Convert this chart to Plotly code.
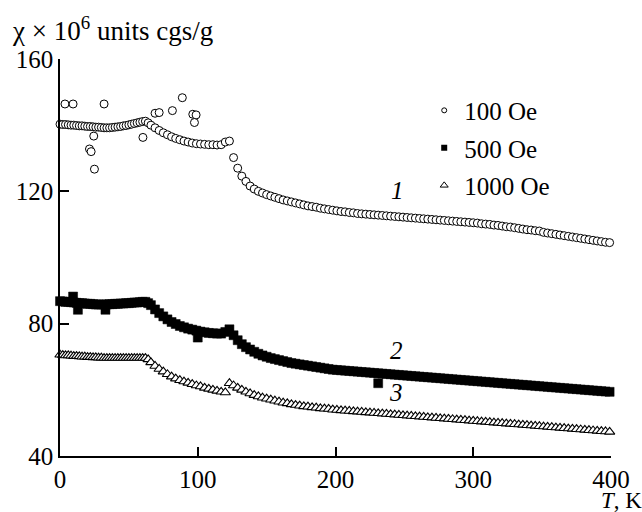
import plotly.graph_objects as go

# Temperature grid (K)
T = [0, 2, 4, 6, 8, 10, 12, 14, 16, 18,
     20, 22, 24, 26, 28, 30, 32, 34, 36, 38,
     40, 42, 44, 46, 48, 50, 52, 54, 56, 58,
     60, 62, 64,
     66, 69, 72, 75, 78, 81, 84, 87, 90, 93,
     96, 99, 102, 105, 108, 111, 114, 117, 120, 123,
     126, 129, 132, 135, 138, 141, 144, 147, 150, 153,
     156, 159, 162, 165, 168, 171, 174, 177, 180, 183,
     186, 189, 192, 195, 198, 201, 204, 207, 210, 213,
     216, 219, 222, 225, 228, 231, 234, 237, 240, 243,
     246, 249, 252, 255, 258, 261, 264, 267, 270, 273,
     276, 279, 282, 285, 288, 291, 294, 297, 300, 303,
     306, 309, 312, 315, 318, 321, 324, 327, 330, 333,
     336, 339, 342, 345, 348, 351, 354, 357, 360, 363,
     366, 369, 372, 375, 378, 381, 384, 387, 390, 393,
     396, 399]

# 100 Oe (curve 1)
CHI_100 = [140.3, 140.2, 140.2, 140.1, 140.0, 140.0, 139.9, 139.8, 139.8, 139.7,
           139.6, 139.6, 139.5, 139.4, 139.4, 139.3, 139.2, 139.2, 139.2, 139.3,
           139.4, 139.5, 139.6, 139.8, 139.9, 140.1, 140.3, 140.5, 140.7, 140.9,
           141.1, 141.2, 140.7,
           140.0, 139.2, 138.4, 137.7, 137.1, 136.5, 136.0, 135.6, 135.2, 134.9,
           134.6, 134.4, 134.3, 134.2, 134.1, 134.1, 134.0, 134.1, 134.9, 135.2,
           130.2, 127.0, 124.6, 123.0, 121.6, 120.7, 120.0, 119.5, 119.0, 118.6,
           118.2, 117.8, 117.4, 117.1, 116.8, 116.5, 116.2, 115.9, 115.6, 115.4,
           115.2, 114.9, 114.7, 114.5, 114.3, 114.1, 113.9, 113.8, 113.6, 113.5,
           113.3, 113.2, 113.1, 113.0, 112.9, 112.8, 112.7, 112.6, 112.5, 112.4,
           112.3, 112.2, 112.1, 112.0, 111.9, 111.8, 111.7, 111.6, 111.5, 111.4,
           111.3, 111.2, 111.1, 111.0, 110.9, 110.8, 110.7, 110.6, 110.5, 110.4,
           110.2, 110.1, 110.0, 109.8, 109.7, 109.5, 109.3, 109.2, 109.0, 108.8,
           108.6, 108.4, 108.3, 108.1, 108.0, 107.6, 107.4, 107.2, 107.0, 106.8,
           106.6, 106.4, 106.2, 106.0, 105.8, 105.6, 105.4, 105.2, 105.0, 104.8,
           104.6, 104.5]

# scattered low-temperature points of the 100 Oe run
T_100_OUT = [3.6, 9.5, 32.0, 24.5, 21.4, 22.6, 25.0, 60.2, 69.0, 72.0, 81.6, 88.8, 96.4, 98.8, 97.6]
CHI_100_OUT = [146.4, 146.4, 146.4, 136.7, 132.8, 132.0, 126.7, 136.3, 143.6, 143.8, 144.4, 148.3, 143.3, 143.1, 140.8]

# 500 Oe (curve 2)
CHI_500 = [86.8, 86.7, 86.6, 86.6, 86.5, 86.4, 86.3, 86.2, 86.2, 86.1,
           86.0, 86.0, 85.9, 85.8, 85.8, 85.8, 85.8, 85.8, 85.9, 85.9,
           86.0, 86.0, 86.1, 86.1, 86.2, 86.2, 86.3, 86.4, 86.4, 86.5,
           86.6, 86.6, 86.2,
           85.6, 84.3, 83.2, 82.2, 81.3, 80.5, 79.9, 79.3, 78.9, 78.5,
           78.2, 77.9, 77.6, 77.4, 77.2, 77.1, 77.0, 77.0, 77.5, 78.3,
           76.5, 75.0, 73.8, 72.9, 72.2, 71.5, 70.9, 70.4, 70.0, 69.6,
           69.3, 69.0, 68.7, 68.4, 68.1, 67.9, 67.7, 67.5, 67.3, 67.1,
           66.9, 66.7, 66.5, 66.3, 66.1, 66.0, 65.9, 65.8, 65.7, 65.6,
           65.5, 65.4, 65.3, 65.2, 65.1, 65.0, 64.9, 64.8, 64.7, 64.6,
           64.5, 64.4, 64.3, 64.2, 64.1, 64.0, 63.9, 63.8, 63.7, 63.6,
           63.5, 63.4, 63.3, 63.2, 63.1, 63.0, 62.9, 62.8, 62.7, 62.6,
           62.5, 62.4, 62.3, 62.2, 62.1, 62.0, 61.9, 61.8, 61.7, 61.6,
           61.5, 61.4, 61.3, 61.2, 61.1, 61.0, 60.9, 60.8, 60.7, 60.6,
           60.5, 60.4, 60.3, 60.2, 60.1, 60.0, 59.9, 59.8, 59.7, 59.6,
           59.5, 59.4]

T_500_OUT = [9.5, 13.0, 33.0, 100.0, 231.0]
CHI_500_OUT = [88.2, 84.2, 84.2, 75.8, 62.0]

# 1000 Oe (curve 3)
CHI_1000 = [70.6, 70.5, 70.4, 70.4, 70.3, 70.2, 70.2, 70.1, 70.0, 70.0,
            69.9, 69.9, 69.8, 69.8, 69.7, 69.7, 69.6, 69.6, 69.6, 69.6,
            69.6, 69.6, 69.6, 69.6, 69.6, 69.6, 69.6, 69.6, 69.6, 69.6,
            69.6, 69.6, 69.2,
            68.3, 67.2, 66.3, 65.5, 64.7, 64.0, 63.4, 62.9, 62.5, 62.1,
            61.7, 61.3, 61.0, 60.6, 60.3, 60.0, 59.7, 59.4, 59.2, 62.0,
            61.3, 60.6, 60.0, 59.4, 58.9, 58.4, 58.0, 57.6, 57.3, 57.0,
            56.7, 56.4, 56.1, 55.9, 55.6, 55.4, 55.2, 55.0, 54.9, 54.7,
            54.6, 54.4, 54.3, 54.2, 54.0, 53.9, 53.8, 53.7, 53.6, 53.5,
            53.4, 53.3, 53.2, 53.1, 53.0, 52.9, 52.8, 52.7, 52.6, 52.5,
            52.4, 52.3, 52.2, 52.1, 52.0, 51.9, 51.8, 51.7, 51.6, 51.5,
            51.4, 51.3, 51.2, 51.1, 51.0, 50.9, 50.8, 50.7, 50.6, 50.5,
            50.4, 50.3, 50.2, 50.1, 50.0, 49.9, 49.8, 49.7, 49.6, 49.5,
            49.4, 49.3, 49.2, 49.1, 49.0, 48.9, 48.8, 48.7, 48.6, 48.5,
            48.4, 48.3, 48.2, 48.1, 48.0, 47.9, 47.8, 47.7, 47.6, 47.5,
            47.4, 47.3]

LEGEND_NAMES = ["100 Oe", "500 Oe", "1000 Oe"]
CURVE_LABELS = ["1", "2", "3"]
CURVE_LABEL_POS = [(245, 120.4), (244, 71.8), (244, 59.1)]
X_TICKS = [0, 100, 200, 300, 400]
Y_TICKS = [40, 80, 120, 160]

FONT = "Liberation Serif"

circle_m = dict(symbol="circle", size=8, color="white", line=dict(color="black", width=1))
square_m = dict(symbol="square", size=9, color="black", line=dict(color="black", width=0.5))
tri_m = dict(symbol="triangle-up", size=9, color="white", line=dict(color="black", width=1.1))

fig = go.Figure()
fig.add_trace(go.Scatter(x=T + T_100_OUT, y=CHI_100 + CHI_100_OUT, mode="markers",
                         name=LEGEND_NAMES[0], cliponaxis=False, showlegend=False, marker=circle_m))
fig.add_trace(go.Scatter(x=T + T_500_OUT, y=CHI_500 + CHI_500_OUT, mode="markers",
                         name=LEGEND_NAMES[1], cliponaxis=False, showlegend=False, marker=square_m))
fig.add_trace(go.Scatter(x=T, y=CHI_1000, mode="markers",
                         name=LEGEND_NAMES[2], cliponaxis=False, showlegend=False, marker=tri_m))

# legend entries (small symbols as in the reference key)
legend_markers = [
    dict(symbol="circle", size=5, color="white", line=dict(color="black", width=1)),
    dict(symbol="square", size=6, color="black", line=dict(color="black", width=0)),
    dict(symbol="triangle-up", size=7, color="white", line=dict(color="black", width=1)),
]
for i, (nm, mk) in enumerate(zip(LEGEND_NAMES, legend_markers)):
    fig.add_trace(go.Scatter(x=[None], y=[None], mode="markers", name=nm, marker=mk,
                             legendgroup="g%d" % i, showlegend=True))

for lab, (tx, ty) in zip(CURVE_LABELS, CURVE_LABEL_POS):
    fig.add_annotation(x=tx, y=ty, xref="x", yref="y", text="<i>" + lab + "</i>",
                       showarrow=False, font=dict(family=FONT, size=25, color="black"))

fig.add_annotation(x=-0.09, y=1.075, xref="paper", yref="paper", xanchor="left", yanchor="middle",
                   text="χ × 10<sup>6</sup> units cgs/g", showarrow=False,
                   font=dict(family=FONT, size=27, color="black"))
fig.add_annotation(x=1.06, y=-0.113, xref="paper", yref="paper", xanchor="right", yanchor="middle",
                   text="<i>T</i>, K", showarrow=False,
                   font=dict(family=FONT, size=23, color="black"))

fig.update_layout(
    width=642, height=512,
    margin=dict(l=60, r=22, t=59, b=56),
    plot_bgcolor="white", paper_bgcolor="white",
    font=dict(family=FONT, size=25, color="black"),
    showlegend=True,
    legend=dict(x=0.661, y=0.928, xanchor="left", yanchor="top", bgcolor="rgba(0,0,0,0)",
                font=dict(family=FONT, size=25, color="black"), tracegroupgap=2,
                itemwidth=30),
)
fig.update_xaxes(range=[0, 400], tickvals=X_TICKS, ticks="inside", ticklen=9, tickwidth=1.5,
                 tickcolor="black", showline=True, linewidth=1.5, linecolor="black",
                 showgrid=False, zeroline=False, tickfont=dict(family=FONT, size=25))
fig.update_yaxes(range=[40, 160], tickvals=Y_TICKS, ticks="inside", ticklen=9, tickwidth=1.5,
                 tickcolor="black", showline=True, linewidth=1.5, linecolor="black",
                 showgrid=False, zeroline=False, tickfont=dict(family=FONT, size=25))

fig.write_html("out.html")
